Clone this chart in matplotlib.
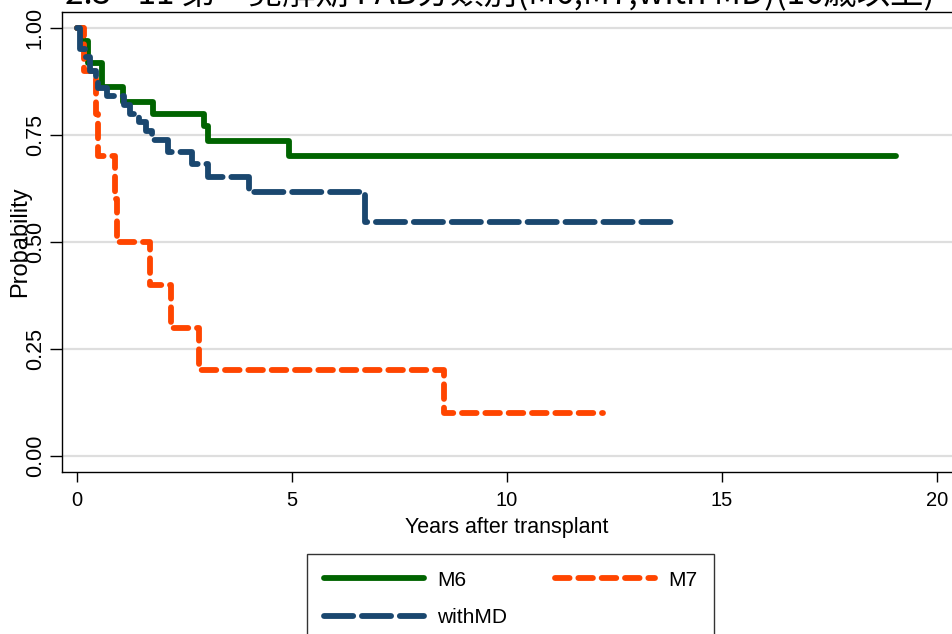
import matplotlib
matplotlib.use('Agg')
import matplotlib.pyplot as plt

# Kaplan-Meier step data (years, survival probability)
m6_t = [0, 0.15, 0.27, 0.58, 1.07, 1.78, 2.95, 3.05, 4.93, 19.05]
m6_s = [1.0, 0.97, 0.918, 0.862, 0.828, 0.80, 0.77, 0.737, 0.70, 0.70]

m7_t = [0, 0.17, 0.45, 0.5, 0.88, 0.93, 1.7, 2.19, 2.84, 8.54, 12.23]
m7_s = [1.0, 0.9, 0.8, 0.7, 0.6, 0.5, 0.4, 0.3, 0.2, 0.1, 0.1]

md_t = [0, 0.07, 0.2, 0.3, 0.45, 0.5, 0.7, 1.1, 1.25, 1.45, 1.6, 1.75,
        2.12, 2.67, 3.05, 4.0, 6.7, 13.98]
md_s = [1.0, 0.95, 0.933, 0.9, 0.878, 0.86, 0.84, 0.82, 0.80, 0.78, 0.76,
        0.738, 0.711, 0.682, 0.653, 0.617, 0.547, 0.547]

x_ticks = [0, 5, 10, 15, 20]
y_ticks = [0.0, 0.25, 0.5, 0.75, 1.0]
y_ticklabels = ['0.00', '0.25', '0.50', '0.75', '1.00']

title = '2.3 - 11 第一寛解期 FAB分類別(M6,M7,with MD)(16歳以上)'

W, H = 952, 634
fig = plt.figure(figsize=(W / 100, H / 100), dpi=100)
ax = fig.add_axes([61.7 / W, (H - 472) / H, 918 / W, 460 / H])

lw = 4.2
ax.step(m6_t, m6_s, where='post', color='#006400', lw=lw,
        solid_capstyle='round', solid_joinstyle='round', label='M6', zorder=3)
ax.step(m7_t, m7_s, where='post', color='#ff4500', lw=lw,
        dashes=(2.5, 1.5), dash_capstyle='round', dash_joinstyle='round',
        label='M7', zorder=3)
ax.step(md_t, md_s, where='post', color='#1a476f', lw=lw,
        dashes=(5.0, 1.5), dash_capstyle='round', dash_joinstyle='round',
        label='withMD', zorder=4)

ax.set_xlim(-0.35, 21.0)
ax.set_ylim(-0.0374, 1.0374)
ax.set_xticks(x_ticks)
ax.set_yticks(y_ticks)
ax.set_yticklabels(y_ticklabels)
ax.grid(axis='y', color='#dedede', lw=1.6, zorder=0)
ax.grid(axis='x', visible=False)

for sp in ax.spines.values():
    sp.set_linewidth(1.0)
    sp.set_color('black')

ax.tick_params(axis='x', length=7.5, width=1.0, pad=6, labelsize=14.5)
ax.tick_params(axis='y', length=8.5, width=1.0, pad=3, labelsize=15.5,
               labelrotation=90)
for lab in ax.get_xticklabels() + ax.get_yticklabels():
    lab.set_fontfamily('Liberation Sans')
for lab in ax.get_yticklabels():
    lab.set_va('center')

ax.set_xlabel('Years after transplant', fontsize=15.5, family='Liberation Sans')
ax.xaxis.set_label_coords((507 - 61.7) / 918, -(528 - 472) / 460)
ax.set_ylabel('Probability', fontsize=17, family='Liberation Sans')
ax.yaxis.set_label_coords((20 - 61.7) / 918, 0.5)
ax.xaxis.label.set_va('center')
ax.yaxis.label.set_va('center')

handles, labels = ax.get_legend_handles_labels()
order = [0, 2, 1]
leg = fig.legend([handles[i] for i in order], [labels[i] for i in order],
                 loc='upper left', bbox_to_anchor=(307 / W, (H - 554) / H),
                 ncol=2, handlelength=4.8, handletextpad=0.65,
                 columnspacing=2.3, labelspacing=0.9, borderpad=0.8,
                 fancybox=False, frameon=True, borderaxespad=0,
                 prop={'family': 'Liberation Sans', 'size': 15})
leg.get_frame().set_edgecolor('black')
leg.get_frame().set_linewidth(1.0)

# title sits partly above the top edge, as in the reference
fig.text(65 / W, (H - 3) / H, title, fontsize=24, va='baseline', ha='left',
         family=['Noto Sans CJK JP', 'DejaVu Sans'])

fig.savefig('out.png', dpi=100)
